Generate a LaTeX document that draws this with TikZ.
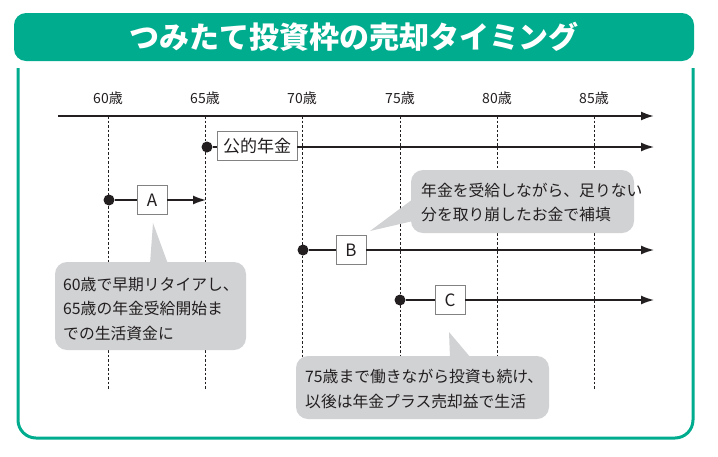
\documentclass[tikz,border=0pt]{standalone}
\usepackage{fontspec}
\newfontfamily\cjk{Noto Sans CJK JP}
\usetikzlibrary{arrows.meta}
\definecolor{titlegreen}{RGB}{0,172,142}
\definecolor{calloutgray}{RGB}{209,210,212}
\definecolor{inkgray}{RGB}{35,31,32}
\definecolor{boxgray}{RGB}{130,130,130}
\tikzset{
  ticklabel/.style={font=\cjk\fontsize{14}{14}\selectfont, text=inkgray, inner sep=0pt},
  gridline/.style={draw=inkgray, line width=0.7pt, dash pattern=on 2.5pt off 2pt},
  timeline/.style={draw=inkgray, line width=1.5pt},
  arrowline/.style={timeline, -{Latex[length=13pt,width=9pt]}},
  labelbox/.style={draw=boxgray, fill=white, line width=0.8pt, minimum width=30pt, minimum height=29pt, inner sep=3pt, font=\cjk\fontsize{17}{17}\selectfont, text=inkgray},
  dotmark/.style={circle, fill=inkgray, inner sep=0pt, minimum size=11pt},
  callouttext/.style={font=\cjk\fontsize{15.8}{24.5}\selectfont, text=inkgray, align=left, anchor=west, inner sep=0pt},
  bubble/.style={fill=calloutgray, rounded corners=12pt}
}
\begin{document}
\begin{tikzpicture}[x=1pt,y=-1pt]
\useasboundingbox (0,0) rectangle (718,456);
% frame
\fill[titlegreen, rounded corners=12pt] (14,13) rectangle (694,61);
\node[font=\cjk\bfseries\fontsize{30}{30}\selectfont, text=white] (title) at (354,37) {つみたて投資枠の売却タイミング};
\draw[titlegreen, line width=3pt, rounded corners=18pt] (18,68) -- (18,438) -- (693,438) -- (693,68);
% ticks
\node[ticklabel] (t60) at (108,98) {60歳};
\node[ticklabel] (t65) at (205,98) {65歳};
\node[ticklabel] (t70) at (302,98) {70歳};
\node[ticklabel] (t75) at (400,98) {75歳};
\node[ticklabel] (t80) at (497,98) {80歳};
\node[ticklabel] (t85) at (594,98) {85歳};
\coordinate (ax0) at (58,116);
\coordinate (ax1) at (654,116);
\coordinate (gb) at (0,390);
\foreach \t in {t60,t65,t70,t75,t80,t85}{
  \draw[gridline] (\t |- ax0) -- (\t |- gb);
}
\draw[timeline, line width=2pt, -{Latex[length=13pt,width=9pt]}] (ax0) -- (ax1);
% public pension
\node[dotmark] (dp) at (207,147) {};
\node[labelbox, minimum width=80pt] (bp) at (257,146) {公的年金};
\coordinate (ep) at (654,147);
\draw[timeline] (dp) -- (bp.west |- dp);
\draw[arrowline] (bp.east |- dp) -- (ep);
% A
\node[dotmark] (da) at (109,200) {};
\node[labelbox] (ba) at (152,200) {A};
\coordinate (ea) at (206,200);
\draw[timeline] (da) -- (ba);
\draw[arrowline] (ba) -- (ea);
% B
\node[dotmark] (db) at (303,250) {};
\node[labelbox] (bb) at (351,250) {B};
\coordinate (eb) at (654,250);
\draw[timeline] (db) -- (bb);
\draw[arrowline] (bb) -- (eb);
% C
\node[dotmark] (dc) at (400,300) {};
\node[labelbox] (bc) at (450,300) {C};
\coordinate (ec) at (654,300);
\draw[timeline] (dc) -- (bc);
\draw[arrowline] (bc) -- (ec);
% callout A
\fill[bubble] (55,262) rectangle (246,350);
\fill[calloutgray] (150,264) -- (153,223) -- (168,264) -- cycle;
\node[callouttext] (ca) at (63,309) {60歳で早期リタイアし、\\65歳の年金受給開始ま\\での生活資金に};
% callout B
\fill[bubble] (411,170) rectangle (634,233);
\fill[calloutgray] (413,199) -- (370,231) -- (413,221) -- cycle;
\node[callouttext] (cb) at (421,202.5) {年金を受給しながら、足りない\\分を取り崩したお金で補填};
% callout C
\fill[bubble] (296,356) rectangle (549,419);
\fill[calloutgray] (450,358) -- (449,332) -- (471,358) -- cycle;
\node[callouttext] (cc) at (305,389) {75歳まで働きながら投資も続け、\\以後は年金プラス売却益で生活};
\end{tikzpicture}
\end{document}
